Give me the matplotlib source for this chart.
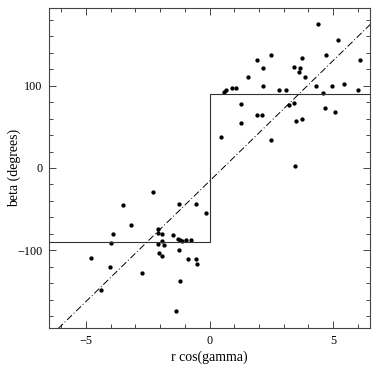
import numpy as np
import matplotlib
matplotlib.use('Agg')
import matplotlib.pyplot as plt
from matplotlib.ticker import MultipleLocator

# observed points, r cos(gamma) vs beta
x_pos = [0.59, 0.68, 0.91, 1.08, 1.56, 1.91, 2.15, 2.49, 2.17, 2.80, 3.10, 3.41, 3.64,
         3.61, 3.73, 3.84, 4.39, 4.71, 5.19, 4.31, 4.58, 4.95, 5.43, 6.01, 6.09, 1.26,
         1.25, 0.45, 1.92, 2.13, 2.49, 3.22, 3.42, 3.50, 3.73, 4.65, 5.07, 3.45]
y_pos = [92.3, 94.3, 97.4, 97.4, 110.5, 131.6, 122.1, 137.6, 99.3, 94.5, 94.5, 123.3, 122.1,
         116.4, 133.3, 111.1, 175.4, 137.6, 155.6, 99.3, 90.8, 100.2, 102.6, 95.3, 131.6, 78.3,
         55.1, 37.2, 64.0, 64.0, 34.1, 76.2, 79.2, 57.2, 59.4, 73.2, 68.3, 2.2]

x_neg = [-2.31, -3.51, -3.20, -3.89, -3.99, -4.82, -4.02, -2.73, -4.39, -1.24, -0.57, -0.15,
         -2.08, -2.07, -1.91, -1.47, -1.30, -1.19, -1.11, -0.95, -0.76, -2.08, -1.94, -1.85,
         -2.06, -1.92, -1.25, -0.88, -0.57, -0.50, -1.21, -1.37]
y_neg = [-29.7, -45.0, -69.4, -80.3, -91.3, -109.2, -120.4, -127.4, -148.1, -44.1, -44.1, -55.3,
         -74.1, -78.8, -80.3, -81.2, -86.1, -87.3, -89.3, -87.3, -88.1, -92.1, -89.3, -93.4,
         -103.3, -106.5, -100.3, -111.3, -111.3, -116.3, -137.4, -174.3]

# step model (+/-90) and linear fit
step_level = 90
fit_slope = 29.3
fit_icept = -15.8

xlim = (-6.5, 6.5)
ylim = (-195, 195)

plt.rcParams['font.family'] = 'Liberation Serif'

fig = plt.figure(figsize=(3.87, 3.70), dpi=100)
ax = fig.add_axes([0.1266, 0.1127, 0.8302, 0.8665])

ax.plot(x_pos + x_neg, y_pos + y_neg, 'o', color='k', ms=3.1, mec='k', mew=0)

ax.plot([xlim[0], 0, 0, xlim[1]], [-step_level, -step_level, step_level, step_level],
        color='#333333', lw=0.8)

xf = np.array(xlim)
ax.plot(xf, fit_slope * xf + fit_icept, color='k', lw=0.7, ls=(0, (7, 2.5, 1, 2.5)))

ax.set_xlim(*xlim)
ax.set_ylim(*ylim)
ax.xaxis.set_major_locator(MultipleLocator(5))
ax.xaxis.set_minor_locator(MultipleLocator(1))
ax.yaxis.set_major_locator(MultipleLocator(100))
ax.yaxis.set_minor_locator(MultipleLocator(20))
ax.tick_params(which='both', direction='in', top=True, right=True,
               width=0.7, color='#444444', labelsize=8.7, pad=4.5)
ax.tick_params(which='major', length=5)
ax.tick_params(which='minor', length=2.7)
for s in ax.spines.values():
    s.set_linewidth(0.8)
    s.set_color('#444444')

ax.set_xlabel('r cos(gamma)', fontsize=10, labelpad=3)
ax.set_ylabel('beta (degrees)', fontsize=10)
ax.yaxis.set_label_coords(-0.088, 0.5)

fig.savefig('out.png', dpi=100)
